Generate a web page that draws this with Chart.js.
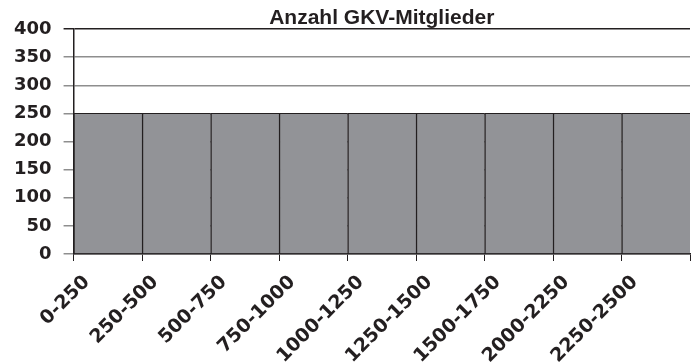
<!DOCTYPE html>
<html>
<head>
<meta charset="utf-8">
<script src="https://cdn.jsdelivr.net/npm/chart.js@4.4.7/dist/chart.umd.min.js"></script>
<style>
  html, body { margin: 0; padding: 0; background: #fff; }
  #wrap { width: 691px; height: 362px; position: relative; }
</style>
</head>
<body>
<div id="wrap"><canvas id="chart"></canvas></div>
<script>
const categories = ['0-250', '250-500', '500-750', '750-1000', '1000-1250',
  '1250-1500', '1500-1750', '2000-2250', '2250-2500'];
const members = [250, 250, 250, 250, 250, 250, 250, 250, 250];
const yMin = 0;
const yMax = 400;
const yStep = 50;

const ink = '#231f20';
const barGray = '#929397';
const gridGray = '#8e8e8e';
const fontFamily = '"DejaVu Sans", sans-serif';

new Chart(document.getElementById('chart'), {
  type: 'bar',
  data: {
    labels: categories,
    datasets: [{
      label: 'Anzahl GKV-Mitglieder',
      data: members,
      backgroundColor: barGray,
      borderColor: ink,
      borderWidth: { top: 1, left: 1.5, right: 0, bottom: 0 },
      borderSkipped: false,
      barPercentage: 1,
      categoryPercentage: 1
    }]
  },
  options: {
    responsive: true,
    maintainAspectRatio: false,
    animation: false,
    layout: { padding: { left: 2, right: 1, top: 0, bottom: 0 } },
    plugins: {
      legend: { display: false },
      tooltip: { enabled: false },
      title: {
        display: true,
        text: 'Anzahl GKV-Mitglieder',
        fullSize: false,
        color: ink,
        font: { family: '"Liberation Sans", Arial, sans-serif', size: 21, weight: 'bold', lineHeight: 1 },
        padding: { top: 8, bottom: 0 }
      }
    },
    scales: {
      x: {
        offset: true,
        grid: {
          offset: true,
          drawOnChartArea: false,
          color: ink,
          tickLength: 7
        },
        border: { color: ink, width: 1.5 },
        ticks: {
          color: ink,
          minRotation: 45,
          maxRotation: 45,
          autoSkip: false,
          labelOffset: -21,
          padding: 10,
          font: { family: fontFamily, size: 19, weight: 'bold' }
        },
        // labels sit at the left edge of each bar, so the first one needs no extra room
        afterFit: scale => {
          scale.paddingLeft = 0;
          scale.height = 108;
        }
      },
      y: {
        min: yMin,
        max: yMax,
        grid: {
          color: ctx => ctx.tick && ctx.tick.value === yMax ? ink : gridGray,
          lineWidth: 1.5,
          tickLength: 10
        },
        border: { color: ink, width: 1.5 },
        ticks: {
          stepSize: yStep,
          color: ink,
          padding: 12,
          font: { family: fontFamily, size: 18, weight: 'bold' }
        }
      }
    }
  }
});
</script>
</body>
</html>
